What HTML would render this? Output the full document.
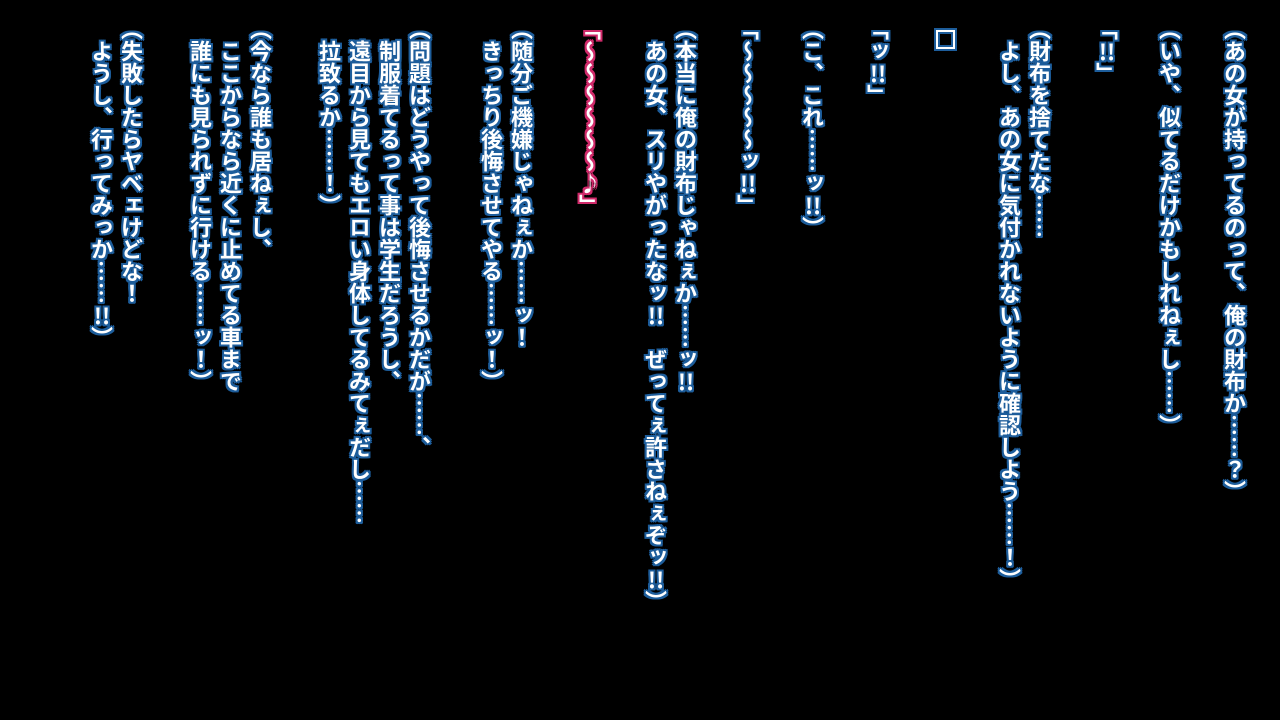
<!DOCTYPE html>
<html><head><meta charset="utf-8"><style>
html,body{margin:0;padding:0;background:#000;width:1280px;height:720px;overflow:hidden}
.c{position:absolute;top:18px;writing-mode:vertical-rl;font-family:"Noto Sans CJK JP",sans-serif;font-weight:bold;font-size:22px;line-height:30px;color:#fff;white-space:nowrap;
text-shadow:2px 0 0 #1d5d9b,-2px 0 0 #1d5d9b,0 2px 0 #1d5d9b,0 -2px 0 #1d5d9b,2px 2px 0 #1d5d9b,-2px -2px 0 #1d5d9b,2px -2px 0 #1d5d9b,-2px 2px 0 #1d5d9b}
.p{text-shadow:2px 0 0 #d02a6a,-2px 0 0 #d02a6a,0 2px 0 #d02a6a,0 -2px 0 #d02a6a,2px 2px 0 #d02a6a,-2px -2px 0 #d02a6a,2px -2px 0 #d02a6a,-2px 2px 0 #d02a6a}
.t{text-combine-upright:all}
.sq{position:absolute;left:936px;top:30px;width:15px;height:15px;border:2px solid #fff;box-shadow:0 0 0 2px #1d5d9b,inset 0 0 0 2px #1d5d9b}
</style></head><body>
<div class="c" style="left:1220px">（あの女が持ってるのって、俺の財布か……？）</div>
<div class="c" style="left:1155px">（いや、似てるだけかもしれねぇし……）</div>
<div class="c" style="left:1092px">「<span class="t">!!</span>」</div>
<div class="c" style="left:995px">（財布を捨てたな……<br>　よし、あの女に気付かれないように確認しよう……！）</div>
<div class="sq"></div>
<div class="c" style="left:863px">「ッ<span class="t">!!</span>」</div>
<div class="c" style="left:798px">（こ、これ……ッ<span class="t">!!</span>）</div>
<div class="c" style="left:733px">「～～～～～ッ<span class="t">!!</span>」</div>
<div class="c" style="left:641px">（本当に俺の財布じゃねぇか……ッ<span class="t">!!</span><br>　あの女、スリやがったなッ<span class="t">!!</span>　ぜってぇ許さねぇぞッ<span class="t">!!</span>）</div>
<div class="c p" style="left:575px">「～～～～～～♪」</div>
<div class="c" style="left:477px">（随分ご機嫌じゃねぇか……ッ！<br>　きっちり後悔させてやる……ッ！）</div>
<div class="c" style="left:315px">（問題はどうやって後悔させるかだが……、<br>　制服着てるって事は学生だろうし、<br>　遠目から見てもエロい身体してるみてぇだし……<br>　拉致るか……！）</div>
<div class="c" style="left:186px">（今なら誰も居ねぇし、<br>　ここからなら近くに止めてる車まで<br>　誰にも見られずに行ける……ッ！）</div>
<div class="c" style="left:87px">（失敗したらヤベェけどな！<br>　ようし、行ってみっか……<span class="t">!!</span>）</div>
</body></html>
